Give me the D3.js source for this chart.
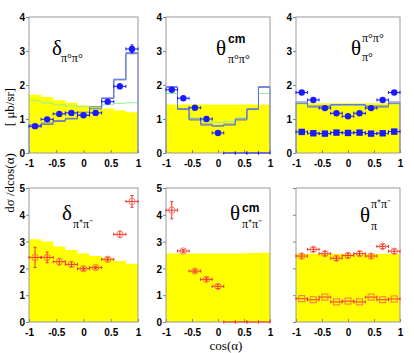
<!DOCTYPE html>
<html>
<head>
<meta charset="utf-8">
<script src="https://cdn.jsdelivr.net/npm/d3@7"></script>
<style>
body{margin:0;background:#fff}
svg{display:block}
.tick text{font-family:"Liberation Sans",Arial,sans-serif;font-weight:bold;font-size:10px;fill:#000}
.tick line{stroke:#888}
.domain{display:none}
.serif{font-family:"Liberation Serif","Times New Roman",serif;fill:#000}
</style>
</head>
<body>
<svg id="chart" width="414" height="353"></svg>
<script>
// bins in cos(alpha)
var binEdges = [-1,-0.778,-0.556,-0.333,-0.111,0.111,0.333,0.556,0.778,1];
var binCenters = [-0.889,-0.667,-0.444,-0.222,0,0.222,0.444,0.667,0.889];
var xTicks = [-1,-0.5,0,0.5,1];
var xTickLabels = ["-1","-0.5","0","0.5","1"];

// pi0 pi0 (top row)
var deltaPi0 = [0.79,0.99,1.15,1.18,1.11,1.18,1.51,1.96,3.06];
var deltaPi0Err = [0.05,0.05,0.05,0.05,0.05,0.05,0.05,0.07,0.12];
var deltaPi0Yellow = [1.71,1.65,1.55,1.48,1.40,1.36,1.30,1.25,1.20];
var deltaPi0Blue = [0.82,0.88,0.95,1.02,1.12,1.30,1.62,2.17,2.95];
var deltaPi0Grey = [0.77,0.84,0.93,1.00,1.20,1.36,1.60,2.15,2.92];
var deltaPi0Green = [1.55,1.47,1.42,1.38,1.36,1.35,1.42,1.46,1.48];

var thetaCmPi0 = [1.86,1.61,1.33,1.00,0.59,0,0,0,0];
var thetaCmPi0Err = [0.05,0.04,0.04,0.04,0.04,0,0,0,0];
var thetaCmPi0Yellow = [1.43,1.43,1.43,1.43,1.43,1.43,1.43,1.43,1.43];
var thetaCmPi0Blue = [1.95,1.30,1.00,0.85,0.80,0.85,1.00,1.30,1.95];
var thetaCmPi0Grey = [1.93,1.28,0.97,0.82,0.79,0.82,0.97,1.28,1.93];
var thetaCmPi0Green = [1.75,1.30,1.03,0.93,0.90,0.93,1.03,1.30,1.75];

var thetaPi0 = [1.78,1.56,1.32,1.17,1.08,1.17,1.32,1.56,1.78];
var thetaPi0Err = [0.03,0.03,0.03,0.03,0.03,0.03,0.03,0.03,0.03];
var thetaPi0Low = [0.62,0.58,0.57,0.60,0.59,0.60,0.57,0.58,0.63];
var thetaPi0Yellow = [1.46,1.46,1.46,1.46,1.46,1.46,1.46,1.46,1.46];
var thetaPi0Blue = [1.50,1.38,1.38,1.42,1.42,1.42,1.38,1.38,1.50];
var thetaPi0Grey = [1.46,1.35,1.36,1.42,1.42,1.42,1.36,1.35,1.46];
var thetaPi0Green = [1.44,1.37,1.37,1.40,1.41,1.40,1.37,1.37,1.44];

// pi+ pi- (bottom row)
var deltaPipm = [2.41,2.41,2.25,2.15,1.99,2.03,2.34,3.27,4.50];
var deltaPipmErr = [0.38,0.20,0.12,0.10,0.06,0.05,0.06,0.12,0.22];
var deltaPipmYellow = [3.09,3.00,2.82,2.69,2.56,2.46,2.38,2.28,2.17];

var thetaCmPipm = [4.17,2.65,1.90,1.59,1.33,0,0,0,0];
var thetaCmPipmErr = [0.32,0.05,0.05,0.06,0.08,0,0,0,0];
var thetaCmPipmYellow = [2.56,2.56,2.56,2.56,2.56,2.56,2.56,2.57,2.58];

var thetaPipm = [2.46,2.71,2.55,2.38,2.48,2.55,2.46,2.82,2.64];
var thetaPipmErr = [0.08,0.08,0.08,0.08,0.08,0.08,0.08,0.08,0.08];
var thetaPipmLow = [0.87,0.83,0.93,0.75,0.78,0.75,0.93,0.83,0.86];
var thetaPipmYellow = [2.55,2.55,2.55,2.55,2.55,2.55,2.55,2.55,2.55];

var svg = d3.select("#chart");
var blue = "#1a1aff", red = "#f03030";

var cols = [[29,138],[166,270],[296,400]];
var rows = [{top:17,bottom:153,max:4,ticks:[0,1,2,3,4]},{top:188,bottom:322,max:5,ticks:[0,1,2,3,4,5]}];

var panels = [
  {c:0,r:0,yellow:deltaPi0Yellow,hists:[[deltaPi0Green,"#99ee99",false],[deltaPi0Grey,"#808080",false],[deltaPi0Blue,"#5470ff",true]],
   pts:[{v:deltaPi0,e:deltaPi0Err,col:blue,shape:"dot"}]},
  {c:1,r:0,yellow:thetaCmPi0Yellow,hists:[[thetaCmPi0Green,"#99ee99",false],[thetaCmPi0Grey,"#808080",false],[thetaCmPi0Blue,"#5470ff",true]],
   pts:[{v:thetaCmPi0,e:thetaCmPi0Err,col:blue,shape:"dot"}]},
  {c:2,r:0,yellow:thetaPi0Yellow,hists:[[thetaPi0Green,"#99ee99",false],[thetaPi0Grey,"#808080",false],[thetaPi0Blue,"#5470ff",true]],
   pts:[{v:thetaPi0,e:thetaPi0Err,col:blue,shape:"dot"},{v:thetaPi0Low,e:null,col:blue,shape:"sq"}]},
  {c:0,r:1,yellow:deltaPipmYellow,hists:[],pts:[{v:deltaPipm,e:deltaPipmErr,col:red,shape:"ring"}]},
  {c:1,r:1,yellow:thetaCmPipmYellow,hists:[],pts:[{v:thetaCmPipm,e:thetaCmPipmErr,col:red,shape:"ring"}]},
  {c:2,r:1,yellow:thetaPipmYellow,hists:[],noLabels:true,
   pts:[{v:thetaPipm,e:thetaPipmErr,col:red,shape:"ring"},{v:thetaPipmLow,e:null,col:red,shape:"box"}]}
];

function stepPath(x,y,vals,closed){
  var p = closed ? "M"+x(binEdges[0])+","+y(0) : "";
  vals.forEach(function(v,i){
    p += (p=="" ? "M" : "L")+x(binEdges[i])+","+y(v)+"L"+x(binEdges[i+1])+","+y(v);
  });
  if(closed) p += "L"+x(binEdges[9])+","+y(0);
  return p;
}

panels.forEach(function(p){
  var row = rows[p.r];
  var x = d3.scaleLinear().domain([-1,1]).range(cols[p.c]);
  var y = d3.scaleLinear().domain([0,row.max]).range([row.bottom,row.top]);
  var g = svg.append("g");

  g.append("path")
    .attr("d",stepPath(x,y,p.yellow,true)+"Z")
    .attr("fill","#ffff00");

  p.hists.forEach(function(h){
    g.append("path")
      .attr("d",stepPath(x,y,h[0],h[2]))
      .attr("fill","none")
      .attr("stroke",h[1])
      .attr("stroke-width",1);
  });

  // frame
  g.append("rect")
    .attr("x",x(-1)).attr("y",y(row.max))
    .attr("width",x(1)-x(-1)).attr("height",y(0)-y(row.max))
    .attr("fill","none").attr("stroke","#999");

  var xa = g.append("g").attr("transform","translate(0,"+y(0)+")")
    .call(d3.axisBottom(x).tickValues(xTicks).tickSize(-3).tickPadding(7)
      .tickFormat(function(d,i){return xTickLabels[i];}));
  var ya = g.append("g").attr("transform","translate("+x(-1)+",0)")
    .call(d3.axisLeft(y).tickValues(row.ticks).tickSize(3).tickPadding(1)
      .tickFormat(function(d){return p.noLabels ? "" : d;}));
  ya.selectAll(".tick text").attr("dy","0.36em");

  p.pts.forEach(function(s){
    var pg = g.append("g").attr("stroke",s.col).attr("fill","none").attr("stroke-width",1);
    s.v.forEach(function(v,i){
      var cx = x(binCenters[i]), cy = y(v);
      var xl = x(binEdges[i]), xr = x(binEdges[i+1]);
      pg.append("line").attr("x1",xl).attr("x2",xr).attr("y1",cy).attr("y2",cy);
      pg.append("line").attr("x1",xl).attr("x2",xl).attr("y1",cy-1.5).attr("y2",cy+1.5);
      pg.append("line").attr("x1",xr).attr("x2",xr).attr("y1",cy-1.5).attr("y2",cy+1.5);
      if(v==0) return;
      if(s.e){
        var yt = y(v+s.e[i]), yb = y(v-s.e[i]);
        pg.append("line").attr("x1",cx).attr("x2",cx).attr("y1",yt).attr("y2",yb);
        pg.append("line").attr("x1",cx-1.5).attr("x2",cx+1.5).attr("y1",yt).attr("y2",yt);
        pg.append("line").attr("x1",cx-1.5).attr("x2",cx+1.5).attr("y1",yb).attr("y2",yb);
      }
      if(s.shape=="dot"){
        pg.append("circle").attr("cx",cx).attr("cy",cy).attr("r",3.2).attr("fill",s.col).attr("stroke","none");
      } else if(s.shape=="sq"){
        pg.append("rect").attr("x",cx-3.2).attr("y",cy-3.2).attr("width",6.4).attr("height",6.4).attr("fill",s.col).attr("stroke","none");
      } else if(s.shape=="ring"){
        pg.append("circle").attr("cx",cx).attr("cy",cy).attr("r",3.2).attr("stroke","#ff7050").attr("fill","none");
      } else {
        pg.append("rect").attr("x",cx-3).attr("y",cy-3).attr("width",6).attr("height",6).attr("stroke","#ff7050").attr("fill","none");
      }
    });
  });
});

// panel titles
function label(x,y,txt,size,cls,weight){
  svg.append("text").attr("x",x).attr("y",y).attr("class",cls||"serif")
    .attr("font-size",size).attr("font-weight",weight||"normal").text(txt);
}
label(52,55,"δ",21);
label(61,62,"π°π°",12);
label(216,55,"θ",21);
label(228,43,"cm",12,"sanslbl","bold");
label(228,63,"π°π°",12);
label(351,55,"θ",21);
label(362,42,"π°π°",12);
label(362,61,"π°",12);
label(62,220,"δ",21);
label(73,228,"π⁺π⁻",12);
label(230,220,"θ",21);
label(242,212,"cm",12,"sanslbl","bold");
label(242,228,"π⁺π⁻",12);
label(360,222,"θ",21);
label(371,208,"π⁺π⁻",12);
label(371,230,"π",12);
svg.selectAll(".sanslbl").style("font-family","'Liberation Sans',Arial,sans-serif");

// axis titles
svg.append("text").attr("class","serif").attr("font-size",13)
  .attr("transform","translate(14,107) rotate(-90)").attr("text-anchor","middle").text("[ μb/sr]");
svg.append("text").attr("class","serif").attr("font-size",13)
  .attr("transform","translate(14,183) rotate(-90)").attr("text-anchor","middle").text("dσ /dcos(α)");
svg.append("text").attr("class","serif").attr("font-size",13)
  .attr("x",226).attr("y",350).attr("text-anchor","middle").text("cos(α)");
</script>
</body>
</html>
